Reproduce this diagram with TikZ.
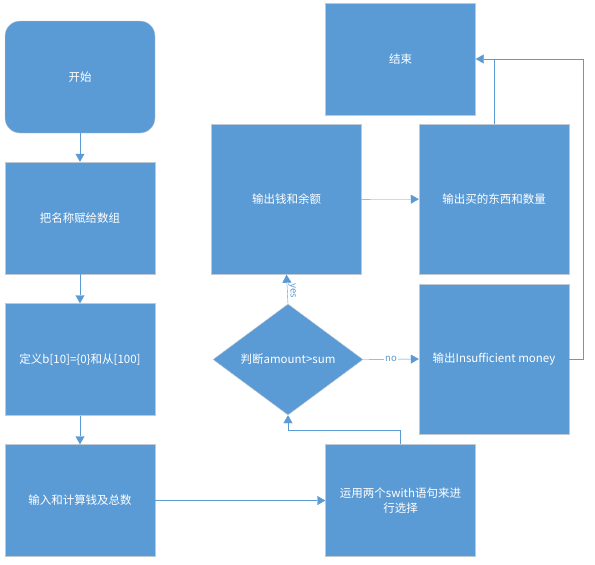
\documentclass[tikz,border=0pt]{standalone}
\usepackage{fontspec}
\setmainfont{Noto Sans CJK SC}
\usetikzlibrary{shapes.geometric,arrows.meta}
\definecolor{boxblue}{HTML}{5B9BD5}
\definecolor{boxline}{HTML}{BFC9D4}

\begin{document}
\begin{tikzpicture}[x=1pt,y=-1pt,>={Triangle[length=8pt,width=9pt]},
  box/.style={draw=boxline,fill=boxblue,text=white,minimum width=150pt,minimum height=112pt,inner sep=0pt,font=\fontsize{11.5}{15}\selectfont,align=center},
  tall/.style={box,minimum height=150pt},
  link/.style={draw=boxblue,thin},
  tag/.style={text=boxblue,font=\fontsize{9.5}{10}\selectfont,inner sep=1pt}]
  \useasboundingbox (0,0) rectangle (595,565);
  % left column
  \node[box,rounded corners=15pt] (start) at (80,77) {开始};
  \node[box] (name) at (80,218) {把名称赋给数组};
  \node[box] (define) at (80,359.5) {定义b[10]=\{0\}和从[100]};
  \node[box] (input) at (80,500.5) {输入和计算钱及总数};
  % right part
  \node[box] (switch) at (400.5,500.5) {运用两个swith语句来进\\行选择};
  \node[box,diamond,aspect=1.35,minimum width=150pt,minimum height=111pt] (judge) at (288,359.5) {判断amount>sum};
  \node[tall] (money) at (286.5,199.5) {输出钱和余额};
  \node[tall] (buy) at (494,199) {输出买的东西和数量};
  \node[tall] (insuff) at (494,359) {输出Insufficient money};
  \node[box] (end) at (400.5,59) {结束};
  \coordinate (turn) at (400.5,430);
  \coordinate (rt) at (583,359);
  % connectors
  \draw[link,->] (start) -- (name);
  \draw[link,->] (name) -- (define);
  \draw[link,->] (define) -- (input);
  \draw[link,->] (input) -- (switch);
  \draw[link,->] (switch.north) -- (turn) -| (judge.south);
  \draw[link,->] (judge.north) -- node[tag,rotate=-90,anchor=south,pos=0.45] {yes} (money.south);
  \draw[link,->] (judge.east) -- node[tag,fill=white,pos=0.5] {no} (insuff.west);
  \draw[link,->] (money) -- (buy);
  \draw[link,->] (insuff.east) -- (rt) |- (end.east);
  \draw[link] (buy.north) -- (buy.north |- end.east);
\end{tikzpicture}
\end{document}
